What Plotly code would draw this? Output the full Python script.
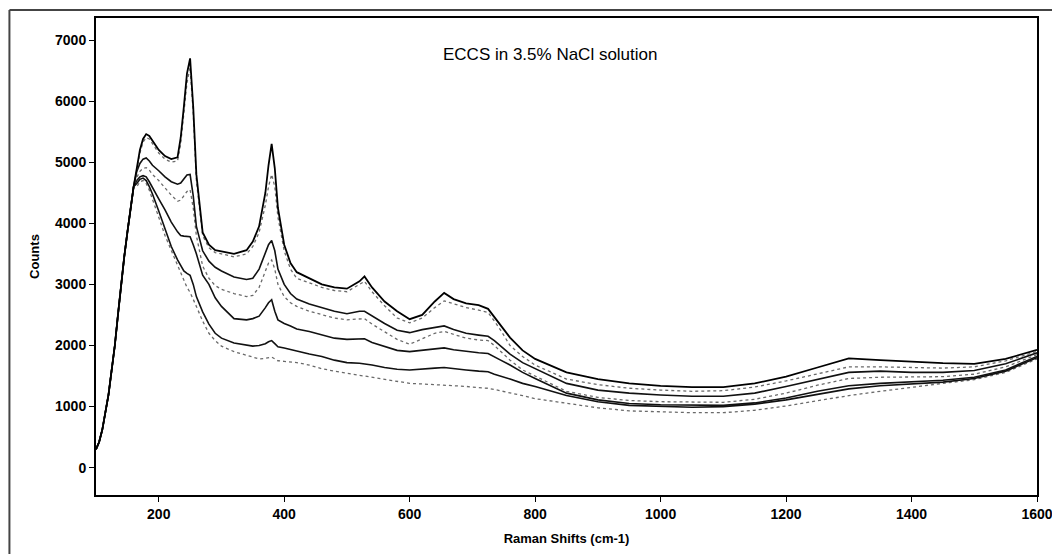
import plotly.graph_objects as go

# Raman shift grid (cm-1)
shift = [100,105,110,115,120,125,130,135,140,145,150,155,160,165,170,175,180,185,190,200,
         210,220,230,235,240,245,250,255,260,270,280,290,300,320,340,350,360,370,375,380,
         385,390,400,410,420,440,460,480,500,520,528,540,560,580,600,620,640,655,670,690,
         710,725,735,745,760,780,800,850,900,950,1000,1050,1100,1150,1200,1250,1300,1350,1400,1450,
         1500,1550,1600]

rise = [300,420,620,900,1200,1600,2000,2500,3000,3450,3850,4250,4600]

spec_a = rise + [4900,5200,5380,5460,5430,5360,5200,5100,5050,5080,5400,5900,6450,6700,5900,4800,3850,3650,3560,3540,3500,3560,3700,3950,4500,4950,5300,4900,4250,3650,3350,3200,3100,3000,2950,2930,3050,3130,2950,2720,2560,2430,2500,2720,2860,2760,2690,2660,2600,2460,2320,2130,1920,1780,1560,1450,1380,1340,1320,1320,1380,1490,1640,1790,1760,1730,1710,1700,1780,1930]
spec_b = rise + [4880,5150,5330,5400,5380,5300,5150,5050,5000,5020,5300,5800,6300,6550,5800,4700,3800,3600,3520,3500,3450,3500,3620,3850,4300,4600,4800,4600,4100,3550,3250,3100,3030,2950,2900,2880,3000,3050,2880,2650,2450,2370,2450,2620,2730,2680,2620,2580,2540,2400,2250,2000,1820,1680,1450,1360,1300,1270,1250,1260,1320,1420,1540,1650,1650,1640,1630,1650,1750,1900]
spec_c = rise + [4850,4980,5050,5070,5020,4950,4860,4760,4680,4640,4660,4720,4790,4800,4450,3950,3550,3380,3280,3220,3120,3080,3100,3250,3500,3650,3720,3550,3250,3000,2850,2760,2680,2620,2560,2520,2560,2560,2480,2360,2250,2210,2260,2300,2320,2260,2200,2170,2150,2080,1990,1860,1720,1620,1380,1270,1220,1190,1170,1170,1220,1330,1450,1560,1580,1560,1560,1590,1700,1880]
spec_d = rise + [4750,4850,4900,4910,4870,4800,4700,4580,4460,4360,4380,4450,4520,4550,4250,3800,3300,3100,2980,2920,2850,2800,2820,2950,3200,3350,3400,3250,3000,2800,2700,2640,2560,2500,2450,2420,2440,2440,2350,2230,2100,2020,2110,2200,2230,2180,2120,2090,2080,2000,1900,1760,1600,1500,1250,1150,1100,1080,1070,1070,1120,1220,1350,1460,1480,1480,1490,1530,1650,1850]
spec_e = rise + [4700,4760,4780,4760,4680,4580,4400,4220,4020,3860,3800,3790,3790,3780,3650,3500,3150,3000,2780,2640,2440,2420,2440,2480,2620,2700,2750,2560,2420,2360,2320,2270,2230,2180,2120,2100,2100,2110,2050,1980,1920,1900,1920,1950,1960,1930,1900,1880,1870,1820,1760,1680,1560,1460,1220,1110,1050,1030,1020,1020,1060,1140,1250,1340,1380,1400,1430,1480,1600,1820]
spec_f = rise + [4650,4720,4740,4700,4600,4480,4200,3900,3620,3400,3300,3220,3180,3150,3000,2800,2550,2350,2200,2120,2040,2000,1990,2000,2030,2060,2080,2030,1980,1960,1940,1910,1860,1820,1760,1720,1710,1700,1680,1640,1610,1600,1620,1630,1640,1620,1600,1580,1570,1530,1500,1450,1380,1330,1180,1080,1020,1000,990,1000,1040,1110,1200,1290,1340,1370,1400,1460,1580,1800]
spec_g = rise + [4600,4680,4700,4650,4540,4400,4100,3800,3550,3300,3200,3050,2950,2870,2760,2640,2400,2200,2080,1990,1900,1840,1800,1780,1790,1800,1810,1780,1750,1740,1730,1720,1680,1620,1580,1540,1510,1500,1480,1440,1410,1380,1370,1360,1350,1340,1330,1310,1300,1280,1260,1220,1180,1130,1050,980,930,910,900,900,940,1010,1100,1180,1250,1320,1380,1440,1560,1780]

series = [spec_g, spec_f, spec_e, spec_d, spec_c, spec_b, spec_a]
styles = [("#6a6a6a", 1.3, "dot"), ("#111111", 1.6, "solid"), ("#111111", 1.6, "solid"),
          ("#6a6a6a", 1.3, "dot"), ("#111111", 1.6, "solid"), ("#6a6a6a", 1.3, "dot"),
          ("#000000", 1.8, "solid")]

for s in series:
    assert len(s) == len(shift), len(s)

fig = go.Figure()
for s, (col, w, dash) in zip(series, styles):
    fig.add_trace(go.Scatter(x=shift, y=s, mode="lines",
                             line=dict(color=col, width=w, dash=dash),
                             showlegend=False))

axis_font = dict(family="Liberation Sans, Arial, sans-serif", size=14, color="black")
fig.update_layout(
    width=1052, height=554,
    margin=dict(l=96, r=15, t=18, b=59),
    plot_bgcolor="white", paper_bgcolor="white",
    font=dict(family="Liberation Sans, Arial, sans-serif", color="black"),
    xaxis=dict(range=[100, 1600], tickvals=[200,400,600,800,1000,1200,1400,1600],
               showline=True, linecolor="black", linewidth=2, mirror=True, automargin=False,
               ticklabeloverflow="allow",
               ticks="outside", ticklen=5, tickcolor="black", showgrid=False, zeroline=False,
               tickfont=dict(axis_font, weight="bold"),
               title=dict(text="<b>Raman Shifts (cm-1)</b>", font=dict(size=13), standoff=13)),
    yaxis=dict(range=[-447, 7360], tickvals=[0,1000,2000,3000,4000,5000,6000,7000],
               showline=True, linecolor="black", linewidth=2, mirror=True, automargin=False,
               ticks="outside", ticklen=5, tickcolor="black", showgrid=False, zeroline=False,
               tickfont=dict(axis_font, weight="bold"),
               title=dict(text="<b>Counts</b>", font=dict(size=13), standoff=12)),
    annotations=[dict(text="ECCS in 3.5% NaCl solution", x=824, y=6760, xref="x", yref="y",
                      showarrow=False, font=dict(size=17, family="Liberation Sans, Arial, sans-serif"))],
    shapes=[dict(type="line", xref="paper", yref="paper",
                 x0=-0.092, x1=-0.092, y0=-0.2, y1=1.0168,
                 line=dict(color="#444444", width=2)),
            dict(type="line", xref="paper", yref="paper",
                 x0=-0.092, x1=1.1, y0=1.0168, y1=1.0168,
                 line=dict(color="#444444", width=2))],
)

fig.write_html("out.html")
